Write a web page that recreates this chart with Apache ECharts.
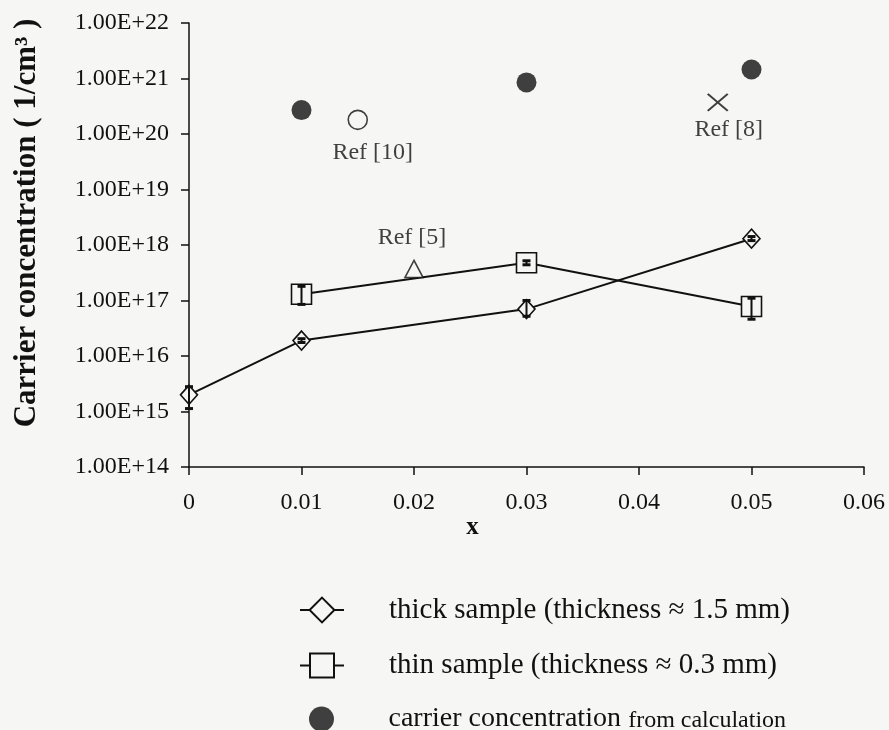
<!DOCTYPE html>
<html>
<head>
<meta charset="utf-8">
<script src="https://cdn.jsdelivr.net/npm/echarts@6/dist/echarts.min.js"></script>
<style>
  html, body { margin: 0; padding: 0; background: #f6f6f4; }
  #chart { width: 889px; height: 730px; }
</style>
</head>
<body>
<div id="chart"></div>
<script>
// Dopant fraction x on the horizontal axis, carrier concentration (1/cm^3) on a log axis.
const thickX = [0, 0.01, 0.03, 0.05];
const thickValues = [2.0e15, 1.9e16, 7.0e16, 1.3e18];
const thickLow = [1.13e15, 1.75e16, 5.2e16, 1.2e18];
const thickHigh = [2.8e15, 2.05e16, 1.0e17, 1.42e18];

const thinX = [0.01, 0.03, 0.05];
const thinValues = [1.3e17, 4.8e17, 7.8e16];
const thinLow = [8.5e16, 4.4e17, 4.6e16];
const thinHigh = [1.8e17, 5.2e17, 1.1e17];

const calcX = [0.01, 0.03, 0.05];
const calcValues = [2.7e20, 8.5e20, 1.45e21];

const refNames = ['Ref [10]', 'Ref [5]', 'Ref [8]'];
const refX = [0.015, 0.02, 0.047];
const refValues = [1.8e20, 3.7e17, 3.7e20];

const seriesNames = [
  'thick sample (thickness \u2248 1.5 mm)',
  'thin sample (thickness \u2248 0.3 mm)',
  'carrier concentration from calculation'
];

const INK = '#111111';
const PAPER = '#f6f6f4';
const SERIF = '"Liberation Serif", "DejaVu Serif", serif';

const zip = (xs, ...cols) => xs.map((x, i) => [x, ...cols.map(c => c[i])]);

// Vertical error bar with short caps, drawn through the axis scales.
function errorBar(params, api) {
  const x = api.value(0);
  const lo = api.coord([x, api.value(1)]);
  const hi = api.coord([x, api.value(2)]);
  const cap = 4;
  const thin = { stroke: INK, lineWidth: 2 };
  const thick = { stroke: INK, lineWidth: 3 };
  return {
    type: 'group',
    children: [
      { type: 'line', shape: { x1: lo[0], y1: lo[1], x2: hi[0], y2: hi[1] }, style: thin },
      { type: 'line', shape: { x1: lo[0] - cap, y1: lo[1], x2: lo[0] + cap, y2: lo[1] }, style: thick },
      { type: 'line', shape: { x1: hi[0] - cap, y1: hi[1], x2: hi[0] + cap, y2: hi[1] }, style: thick }
    ]
  };
}

const refSymbols = ['circle', 'triangle', 'path://M0,0L10,10M10,0L0,10'];
const refSizes = [[19, 19], [18, 17], [20, 17]];
const refLabelOffsets = [[15, 33], [-2, -31], [11, 27]];

// One legend block per row so each row can carry its own symbol size.
const legendRows = [
  { name: seriesNames[0], center: 611, height: 31, left: 299 },
  { name: seriesNames[1], center: 666, height: 30, left: 299 },
  { name: seriesNames[2], center: 717, height: 25, left: 309 }
];
const legendText = {
  fontFamily: SERIF, fontSize: 29, color: INK, padding: [0, 0, 0, 40],
  rich: {
    big: { fontFamily: SERIF, fontSize: 28, color: INK },
    small: { fontFamily: SERIF, fontSize: 24, color: INK, padding: [3, 0, 0, 0] }
  }
};

const chart = echarts.init(document.getElementById('chart'));
chart.setOption({
  backgroundColor: PAPER,
  animation: false,
  textStyle: { fontFamily: SERIF, color: INK },
  grid: { left: 189, right: 25, top: 23, bottom: 263, containLabel: false },
  xAxis: {
    type: 'value',
    min: 0,
    max: 0.06,
    interval: 0.01,
    name: 'x',
    nameLocation: 'middle',
    nameGap: 48,
    nameMoveOverlap: false,
    nameTextStyle: { fontFamily: SERIF, fontSize: 25, fontWeight: 'bold', color: INK, padding: [0, 108, 0, 0] },
    axisLine: { lineStyle: { color: INK, width: 1.5 } },
    axisTick: { show: true, inside: false, length: 8, lineStyle: { color: INK, width: 1.5 } },
    axisLabel: { fontFamily: SERIF, fontSize: 24, color: INK, margin: 24 },
    splitLine: { show: false }
  },
  yAxis: {
    type: 'log',
    logBase: 10,
    min: 1e14,
    max: 1e22,
    name: 'Carrier concentration ( 1/cm\u00b3 )',
    nameLocation: 'middle',
    nameGap: 147,
    nameRotate: 90,
    nameTextStyle: { fontFamily: SERIF, fontSize: 31, fontWeight: 'bold', color: INK, padding: [0, 0, 0, 44] },
    axisLine: { show: true, lineStyle: { color: INK, width: 1.5 } },
    axisTick: { show: true, length: 8, lineStyle: { color: INK, width: 1.5 } },
    axisLabel: {
      fontFamily: SERIF, fontSize: 24, color: INK, margin: 20,
      formatter: v => '1.00E+' + Math.round(Math.log10(v))
    },
    splitLine: { show: false },
    minorTick: { show: false }
  },
  legend: legendRows.map(row => ({
    orient: 'vertical',
    left: row.left,
    top: row.center - row.height / 2,
    itemWidth: 44,
    itemHeight: row.height,
    padding: 0,
    data: [row.name],
    textStyle: legendText,
    formatter: name => name === seriesNames[2]
      ? '{big|carrier concentration} {small|from calculation}'
      : name
  })),
  series: [
    {
      name: seriesNames[0],
      type: 'line',
      data: zip(thickX, thickValues),
      symbol: 'diamond',
      symbolSize: [17, 19],
      showAllSymbol: true,
      lineStyle: { color: INK, width: 2 },
      itemStyle: { color: PAPER, borderColor: INK, borderWidth: 1.6 },
      z: 3
    },
    {
      name: seriesNames[1],
      type: 'line',
      data: zip(thinX, thinValues),
      symbol: 'rect',
      symbolSize: [20, 20],
      showAllSymbol: true,
      lineStyle: { color: INK, width: 2 },
      itemStyle: { color: PAPER, borderColor: INK, borderWidth: 1.6 },
      z: 3
    },
    {
      name: seriesNames[2],
      type: 'scatter',
      data: zip(calcX, calcValues),
      symbol: 'circle',
      symbolSize: 20,
      itemStyle: { color: INK },
      z: 4
    },
    {
      name: 'thick error',
      type: 'custom',
      renderItem: errorBar,
      data: zip(thickX, thickLow, thickHigh),
      z: 5
    },
    {
      name: 'thin error',
      type: 'custom',
      renderItem: errorBar,
      data: zip(thinX, thinLow, thinHigh),
      z: 5
    },
    {
      name: 'references',
      type: 'scatter',
      z: 4,
      data: refNames.map((n, i) => ({
        value: [refX[i], refValues[i]],
        symbol: refSymbols[i],
        symbolSize: refSizes[i],
        itemStyle: { color: PAPER, borderColor: INK, borderWidth: i === 2 ? 2 : 1.6 },
        label: {
          show: true,
          formatter: n,
          position: 'inside',
          offset: refLabelOffsets[i],
          fontFamily: SERIF,
          fontSize: 24,
          color: INK
        }
      }))
    }
  ]
});
</script>
</body>
</html>
